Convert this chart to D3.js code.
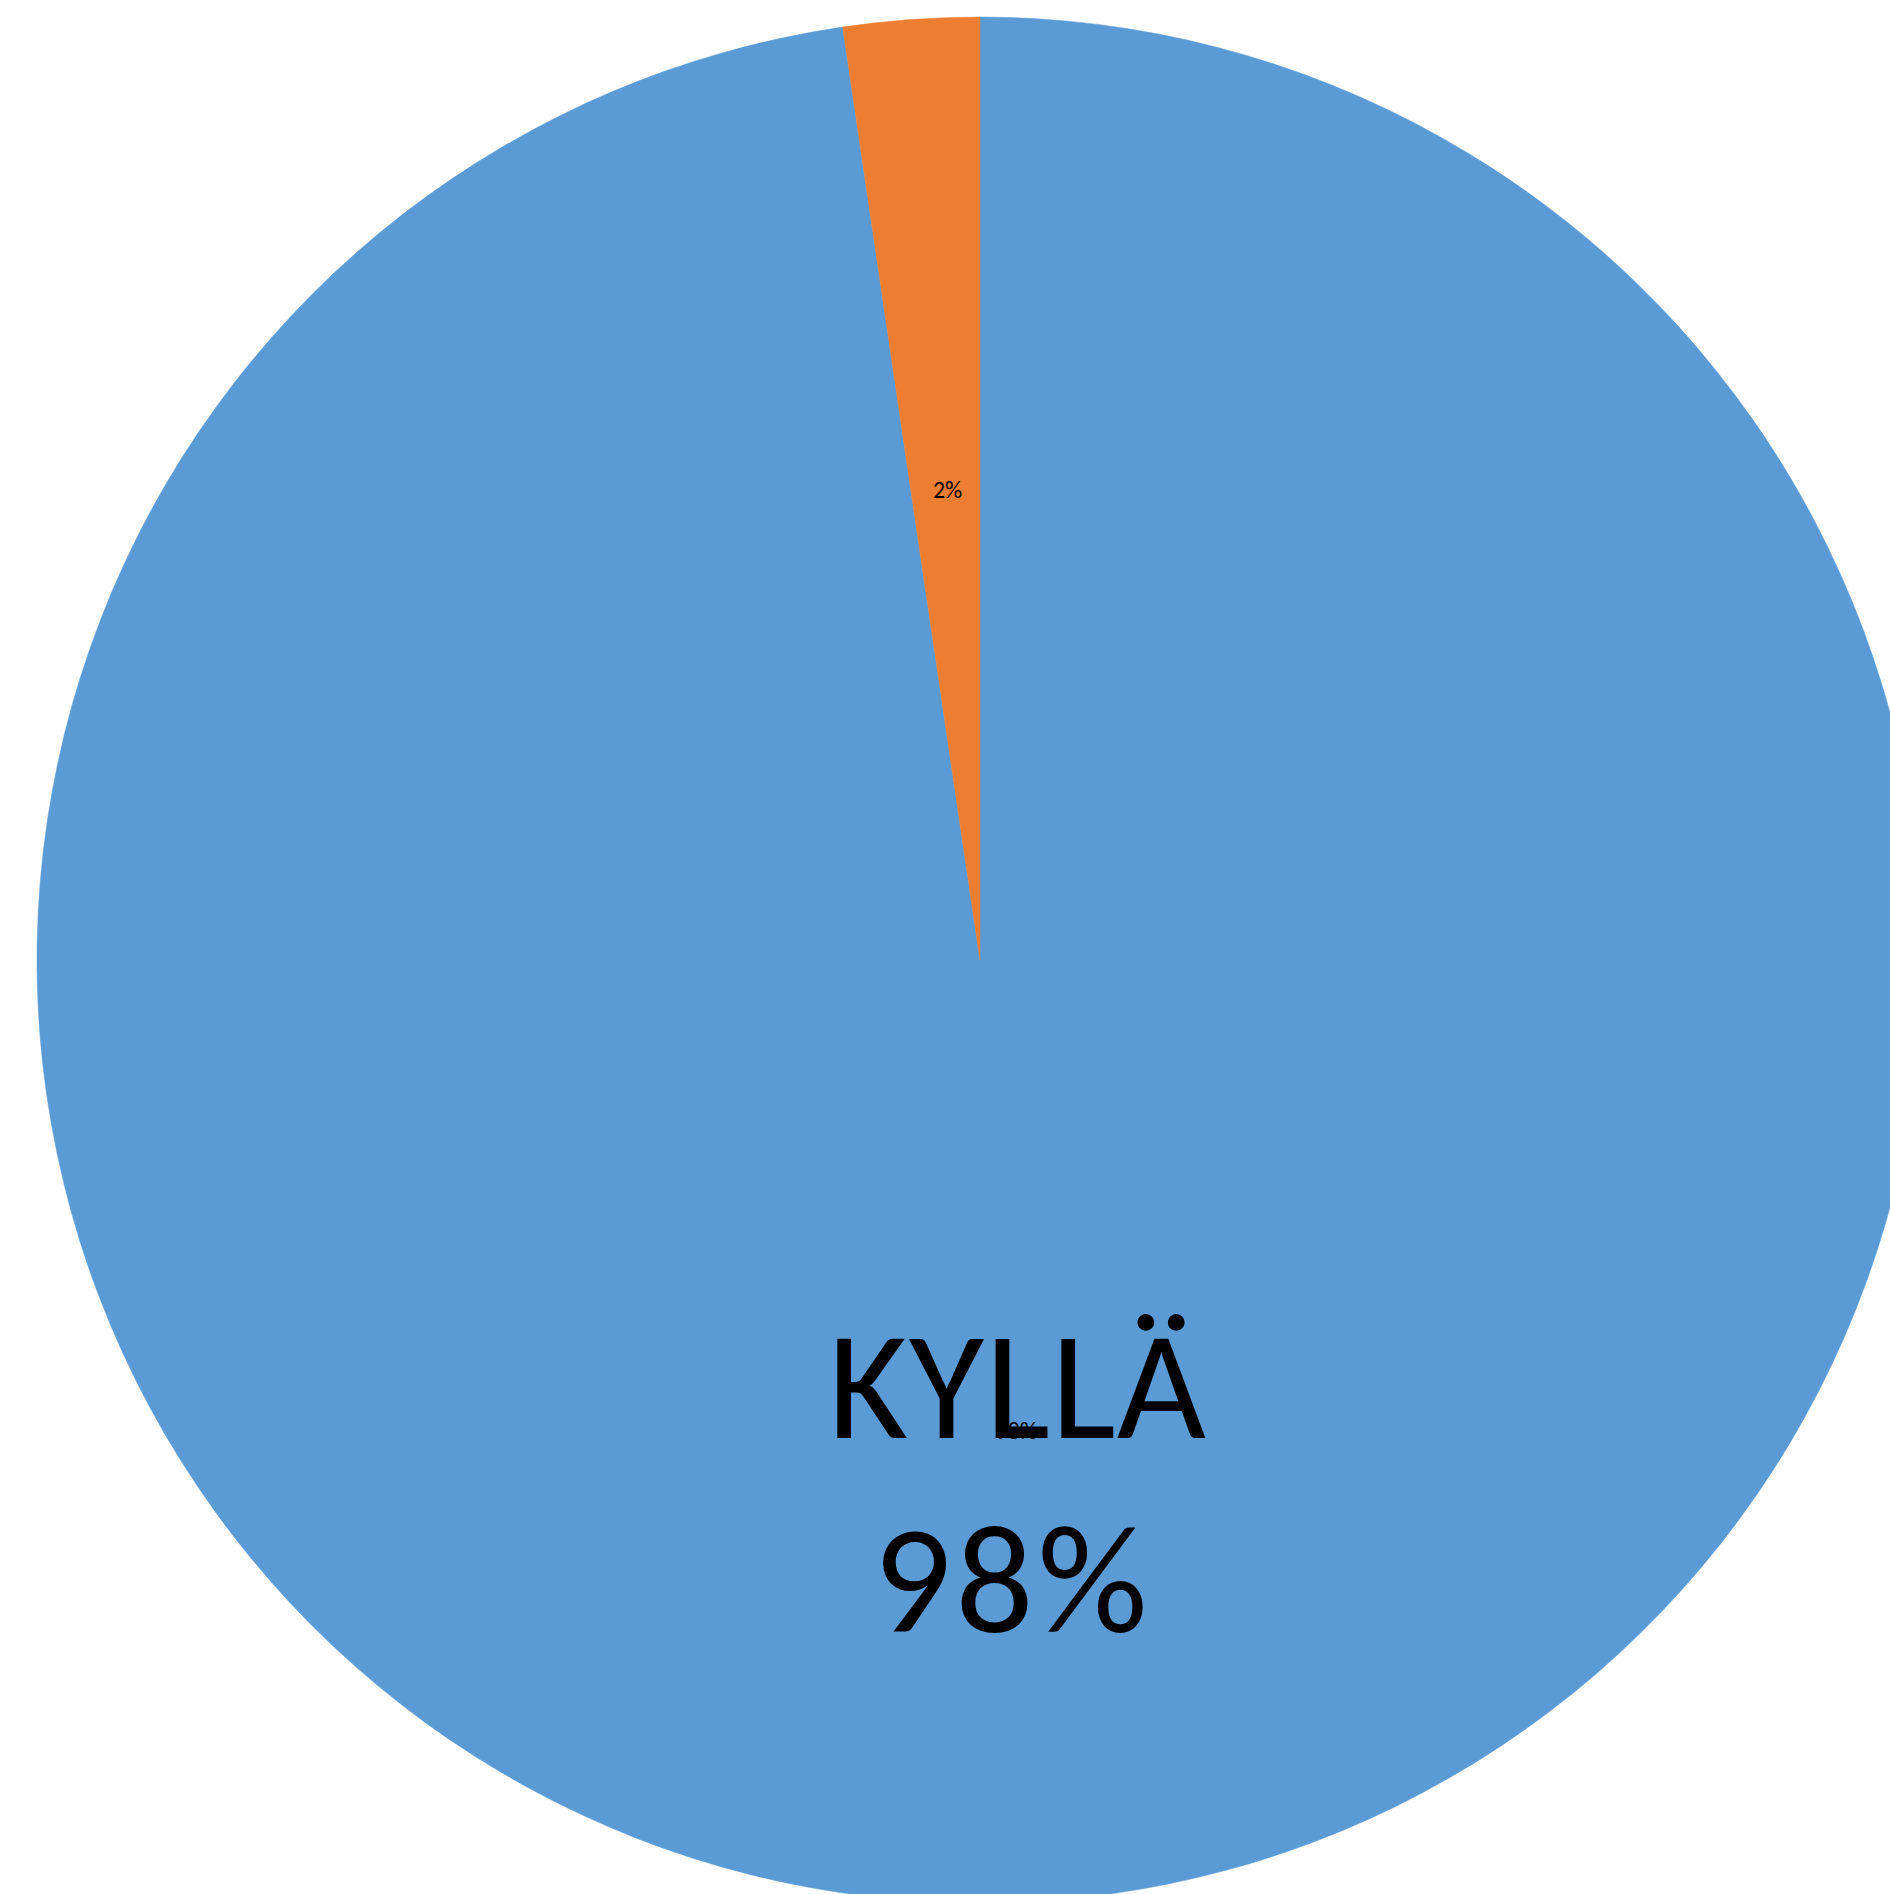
<!DOCTYPE html>
<html>
<head>
<meta charset="utf-8">
<script src="https://cdn.jsdelivr.net/npm/d3@7"></script>
<style>
  html, body { margin: 0; padding: 0; background: #ffffff; overflow: hidden; }
  svg { display: block; }
</style>
</head>
<body>
<svg id="chart" width="1890" height="1894"></svg>
<script>
// Data
const categories = ["KYLLÄ", "EI"];
const values = [42, 1];
const colors = ["#5B9BD5", "#ED7D31"];
const valueLabels = ["98%", "2%"];

const W = 1890, H = 1894;
const cx = 980, cy = 960, R = 943;
const FONT = "Carlito, Lato, 'Open Sans', sans-serif";

const svg = d3.select("#chart");
const g = svg.append("g").attr("transform", `translate(${cx},${cy})`);

const data = categories.map((c, i) => ({ cat: c, value: values[i], color: colors[i], label: valueLabels[i] }));

const pie = d3.pie().value(d => d.value).sort(null);
const arcs = pie(data);
const arc = d3.arc().innerRadius(0).outerRadius(R);
const labelArc = d3.arc().innerRadius(R * 0.5).outerRadius(R * 0.5);

g.selectAll("path.slice")
  .data(arcs)
  .join("path")
  .attr("class", "slice")
  .attr("d", arc)
  .attr("fill", d => d.data.color)
  .attr("stroke", d => d.data.color)
  .attr("stroke-width", 0.5);

// small value labels at slice centroids
g.selectAll("text.val")
  .data(arcs)
  .join("text")
  .attr("class", "val")
  .attr("x", d => labelArc.centroid(d)[0] + 2)
  .attr("y", d => labelArc.centroid(d)[1])
  .attr("text-anchor", "middle")
  .attr("dominant-baseline", "central")
  .attr("font-family", FONT)
  .attr("font-size", 24)
  .attr("fill", "#000")
  .text(d => d.data.label);

// big category label for the first slice
const big = arcs[0];
const bc = labelArc.centroid(big);
const bigText = g.append("text")
  .attr("text-anchor", "middle")
  .attr("font-family", FONT)
  .attr("font-size", 154)
  .attr("fill", "#000");
bigText.append("tspan")
  .attr("x", bc[0] + 3)
  .attr("y", bc[1] + 8)
  .attr("letter-spacing", 1)
  .text(big.data.cat);
bigText.append("tspan")
  .attr("x", bc[0] - 2)
  .attr("y", bc[1] + 202)
  .attr("letter-spacing", 4)
  .text(big.data.label);
</script>
</body>
</html>
